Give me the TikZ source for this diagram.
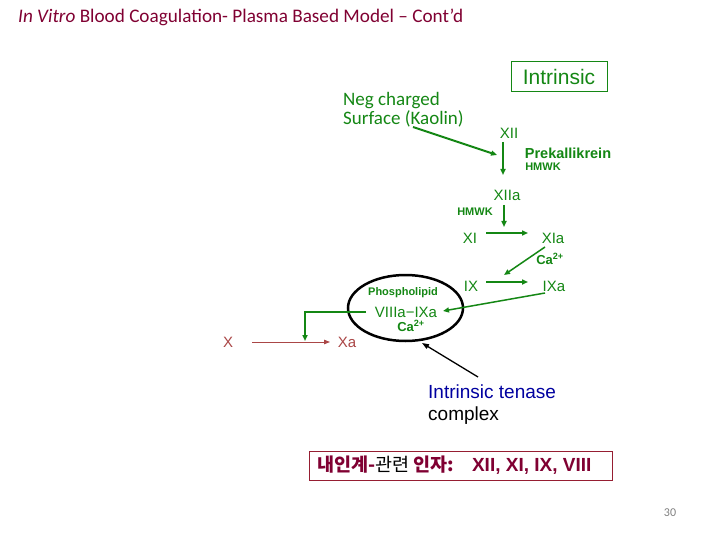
\documentclass[tikz,border=0pt]{standalone}
\usepackage{fontspec}
\setmainfont{Liberation Sans}
\newfontfamily\calib{Carlito}
\newfontfamily\kr{Noto Sans CJK KR}
\usetikzlibrary{arrows.meta,positioning,shapes.geometric}
\definecolor{grn}{RGB}{20,135,20}
\definecolor{titlered}{RGB}{128,0,50}
\definecolor{xred}{RGB}{170,70,70}
\definecolor{navy}{RGB}{0,0,160}
\definecolor{boxred}{RGB}{150,30,50}

\begin{document}
\begin{tikzpicture}[x=1pt, y=-1pt,
  factor/.style={text=grn, font=\fontsize{15}{17}\selectfont, inner sep=1pt},
  small/.style={text=grn, font=\bfseries\fontsize{11}{12}\selectfont, inner sep=0pt},
  xfac/.style={text=xred, font=\fontsize{15}{17}\selectfont, inner sep=1pt},
  arrow/.style={-{Triangle[length=6pt,width=5pt]}, line width=1.5pt, grn},
  redarrow/.style={-{Triangle[length=6pt,width=4.5pt]}, line width=1pt, xred},
  blackarrow/.style={-{Triangle[length=7pt,width=5pt]}, line width=1.3pt, black}]
\useasboundingbox[fill=white] (0,0) rectangle (720,540);
\node[anchor=west, text=titlered, font=\calib\fontsize{19.2}{22}\selectfont, inner sep=0pt] (title) at (18,17) {\textit{In Vitro} Blood Coagulation- Plasma Based Model – Cont’d};
\node[draw=grn, line width=1pt, text=grn, font=\fontsize{21}{23}\selectfont, minimum width=96, minimum height=30, inner sep=0pt] (intr) at (559,77) {Intrinsic};
\node[anchor=west, align=left, text=grn, font=\calib\fontsize{19}{19}\selectfont, inner sep=0pt] (kaolin) at (343,110) {Neg charged\\Surface (Kaolin)};
\node[factor] (xii) at (509,133) {XII};
\node[small, font=\bfseries\fontsize{14.5}{15}\selectfont] (prek) at (568,153) {Prekallikrein};
\node[small] (hmwka) at (543,167) {HMWK};
\node[factor] (xiia) at (507,195) {XIIa};
\node[small] (hmwkb) at (475,212) {HMWK};
\node[factor] (xi) at (470,238) {XI};
\node[factor] (xia) at (553,238) {XIa};
\node[small, font=\bfseries\fontsize{13}{13}\selectfont] (caa) at (550,259) {Ca\textsuperscript{2+}};
\node[factor] (ix) at (471,286) {IX};
\node[factor] (ixa) at (554,286) {IXa};
\node[draw, ellipse, line width=2.5pt, minimum width=115, minimum height=66] (tenase) at (405.5,308) {};
\node[small] (phos) at (403,293) {Phospholipid};
\node[factor, inner sep=0pt] (viiia) at (406,312) {VIIIa−IXa};
\node[small, font=\bfseries\fontsize{13}{13}\selectfont] (cab) at (411,326) {Ca\textsuperscript{2+}};
\node[xfac] (x) at (228,342) {X};
\node[xfac] (xa) at (347,342) {Xa};
\node[anchor=west, align=left, font=\fontsize{19}{22}\selectfont, inner sep=0pt] (lbl) at (428,405) {\textcolor{navy}{Intrinsic tenase}\\complex};
\node[draw=boxred, line width=1pt, minimum width=303, minimum height=29, inner sep=0pt] (kbox) at (460.5,465.5) {};
\node[anchor=west, inner sep=0pt, font=\kr\fontsize{18.5}{20}\selectfont] (ktext) at (317,465.5) {\textcolor{titlered}{\bfseries 내인계-}관련 \textcolor{titlered}{\bfseries 인자:}\hspace{18pt}\textcolor{titlered}{\fontspec{Liberation Sans}\bfseries\fontsize{19}{20}\selectfont XII, XI, IX, VIII}};
\node[text=gray, font=\calib\fontsize{12}{14}\selectfont] (page) at (670,513) {30};
\coordinate (xiimid) at (497,155);
\coordinate (xline) at (305,341);
\draw[arrow, line width=2pt] ([xshift=70pt,yshift=-17pt]kaolin.west) -- (xiimid);
\draw[arrow] ([xshift=-6pt,yshift=-9pt]xii.center) -- ([xshift=-4pt,yshift=20pt]xiia.center);
\draw[arrow] ([xshift=-3pt,yshift=-10pt]xiia.center) -- ([xshift=34pt,yshift=11pt]xi.center);
\draw[arrow] ([xshift=16pt,yshift=5pt]xi.center) -- ([xshift=-25pt,yshift=5pt]xia.center);
\draw[arrow] ([xshift=-8pt,yshift=-9pt]xia.center) -- ([xshift=33pt,yshift=11pt]ix.center);
\draw[arrow] ([xshift=15pt,yshift=4pt]ix.center) -- ([xshift=-26pt,yshift=4pt]ixa.center);
\draw[arrow] ([xshift=-9pt,yshift=-7pt]ixa.center) -- ([xshift=37pt,yshift=1pt]viiia.center);
\draw[arrow, line width=2.5pt] ([xshift=-40pt]viiia.center) -| (xline);
\draw[redarrow] ([xshift=24pt]x.center) -- ([xshift=-17pt]xa.center);
\draw[blackarrow] ([xshift=50pt,yshift=28pt]lbl.west) -- ([xshift=16.5pt,yshift=-35pt]tenase.center);
\end{tikzpicture}
\end{document}
